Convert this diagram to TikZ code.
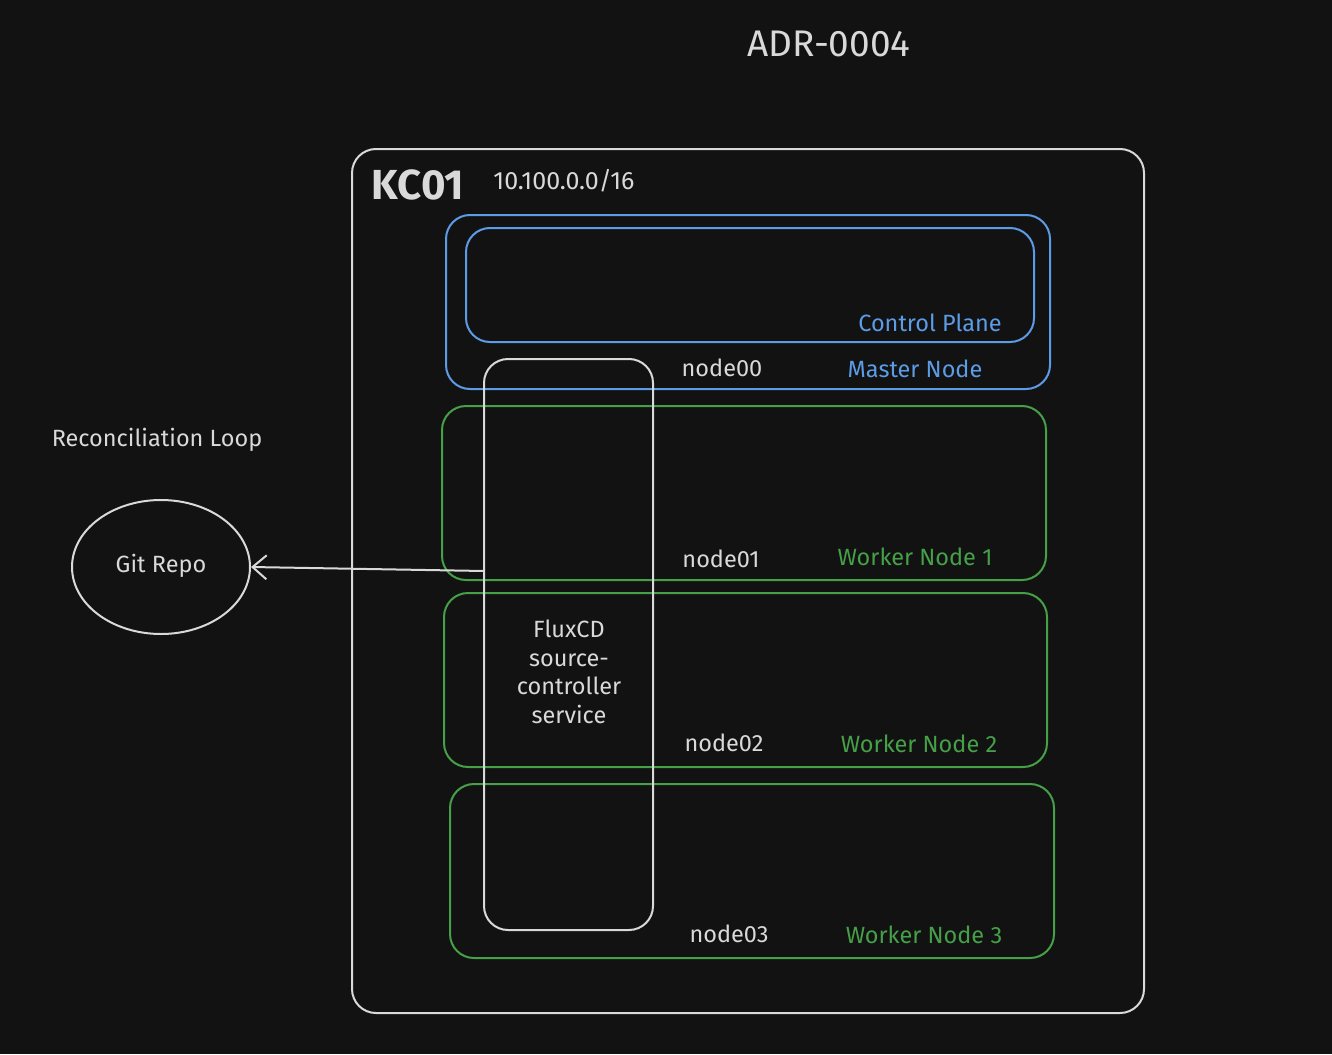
\documentclass[tikz,border=0pt]{standalone}
\usepackage{fontspec}
\setmainfont{Fira Sans}
\usetikzlibrary{arrows.meta,shapes.geometric}
\definecolor{bgdark}{HTML}{121212}
\definecolor{penwhite}{HTML}{D9D9D9}
\definecolor{penblue}{HTML}{5C9CE6}
\definecolor{pengreen}{HTML}{45A048}
\begin{document}
\begin{tikzpicture}[
			x=1pt, y=-1pt,
			lbl/.style = {inner sep=0pt, font=\fontsize{23.5}{28}\selectfont, text=penwhite},
			blue lbl/.style = {lbl, text=penblue},
			green lbl/.style = {lbl, text=pengreen}
		]
		\fill[bgdark] (0,0) rectangle (1332,1054);
		\useasboundingbox (0,0) rectangle (1332,1054);
		% title
		\node[lbl, font=\fontsize{37}{40}\selectfont] (title) at (829,44) {ADR-0004};
		% cluster
		\draw[penwhite, line width=2pt, rounded corners=24pt] (352,149) rectangle (1144,1013);
		\node[lbl, font=\fontsize{42}{46}\bfseries] (kc01) at (418,185) {KC01};
		\node[lbl, font=\fontsize{25}{29}\selectfont] (cidr) at (564,181) {10.100.0.0/16};
		% master node
		\draw[penblue, line width=2pt, rounded corners=24pt] (446,215) rectangle (1050,389);
		\draw[penblue, line width=2pt, rounded corners=24pt] (466,228) rectangle (1034,342);
		\node[blue lbl] (ctrlplane) at (930,323) {Control Plane};
		\node[blue lbl] (master) at (915,369) {Master Node};
		\node[lbl] (node00) at (722,368) {node00};
		% worker nodes
		\draw[pengreen, line width=2pt, rounded corners=24pt] (442,406) rectangle (1046,580);
		\node[lbl] (node01) at (721,559) {node01};
		\node[green lbl] (worker1) at (915,557) {Worker Node 1};
		\draw[pengreen, line width=2pt, rounded corners=24pt] (444,593) rectangle (1047,767);
		\node[lbl] (node02) at (724,743) {node02};
		\node[green lbl] (worker2) at (919,744) {Worker Node 2};
		\draw[pengreen, line width=2pt, rounded corners=24pt] (450,784) rectangle (1054,958);
		\node[lbl] (node03) at (729,934) {node03};
		\node[green lbl] (worker3) at (924,935) {Worker Node 3};
		% fluxcd
		\node[draw=penwhite, line width=2pt, rounded corners=24pt, minimum width=169pt,
			minimum height=571pt] (flux) at (568.5,644.5) {};
		\node[lbl, align=center, font=\fontsize{23.5}{28.5}\selectfont] (fluxtxt) at (569,672)
			{FluxCD\\source-\\controller\\service};
		% git repo
		\node[draw=penwhite, line width=2pt, ellipse, minimum width=178pt,
			minimum height=134pt] (gitrepo) at (161,567) {};
		\node[lbl] (gittxt) at (161,566) {Git Repo};
		\node[lbl] (loop) at (157,440) {Reconciliation Loop};
		\coordinate (fluxout) at (484,571);
		\draw[penwhite, line width=2pt, -{Straight Barb[length=14pt,width=24pt]}] (fluxout) -- (gitrepo.east);
	\end{tikzpicture}
\end{document}
